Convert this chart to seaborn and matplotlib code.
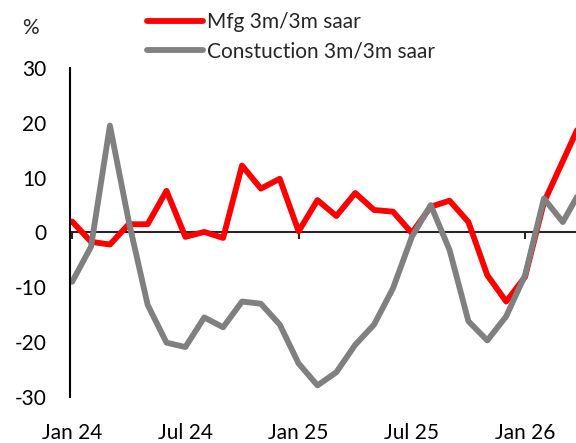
import numpy as np
import pandas as pd
import matplotlib
matplotlib.use("Agg")
import matplotlib.pyplot as plt
import seaborn as sns

months = pd.date_range("2024-01-01", periods=28, freq="MS")
mfg = [2.0, -1.7, -2.2, 1.5, 1.5, 7.6, -0.8, 0.1, -1.0, 12.2, 8.0, 9.8,
       0.2, 5.9, 3.0, 7.2, 4.1, 3.8, -0.1, 4.7, 5.8, 1.9, -7.8, -12.6,
       -8.1, 5.5, 13.0, 20.5]
constr = [-9.0, -2.6, 19.5, 2.0, -13.2, -20.1, -20.9, -15.5, -17.3, -12.6, -13.0, -16.8,
          -23.9, -27.9, -25.5, -20.5, -16.8, -10.2, -0.8, 5.0, -3.2, -16.2, -19.7, -15.3,
          -7.8, 6.2, 1.9, 8.0]
series_names = ["Mfg 3m/3m saar", "Constuction 3m/3m saar"]
colors = ["#FF0000", "#808080"]
label_idx = [0, 6, 12, 18, 24]
jan_idx = [0, 12, 24]

df = pd.DataFrame({"idx": np.arange(len(months)), series_names[0]: mfg, series_names[1]: constr})
df = df.melt(id_vars="idx", var_name="series", value_name="value")

sns.set_style("white")
plt.rcParams["font.family"] = ["Lato", "DejaVu Sans"]
plt.rcParams["font.size"] = 15
plt.rcParams["axes.unicode_minus"] = False

fig = plt.figure(figsize=(5.76, 4.43), dpi=100)
ax = fig.add_axes([0.122, 0.104, 0.878, 0.7425])
sns.lineplot(data=df, x="idx", y="value", hue="series", palette=colors,
             linewidth=4.2, ax=ax)

ax.set_xlim(-0.1, 26.7)
ax.set_ylim(-30, 30)
ax.set_yticks([-30, -20, -10, 0, 10, 20, 30])
ax.set_xticks(label_idx)
ax.set_xticklabels([months[i].strftime("%b %y") for i in label_idx])
ax.set_xlabel("")
ax.set_ylabel("")
for s in ["top", "right", "bottom"]:
    ax.spines[s].set_visible(False)
ax.spines["left"].set_color("black")
ax.spines["left"].set_linewidth(1.5)
ax.tick_params(axis="y", direction="out", length=5, width=1.5, pad=12, colors="black")
ax.tick_params(axis="x", length=0, pad=19, colors="black")

# zero line with January ticks
sec = ax.secondary_xaxis(0, transform=ax.transData)
sec.set_xticks(jan_idx)
sec.set_xticklabels([])
sec.spines["bottom"].set_linewidth(1.5)
sec.spines["top"].set_linewidth(1.5)
sec.tick_params(direction="out", length=5, width=1.5)

handles, labels = ax.get_legend_handles_labels()
ax.legend(handles, labels, loc="upper left", bbox_to_anchor=(147 / 576, 0.972),
          bbox_transform=fig.transFigure, frameon=False, borderpad=0, borderaxespad=0,
          handlelength=2.7, handletextpad=0.2, labelspacing=0.45)

fig.text(30 / 576, 1 - 28 / 443, "%", ha="center", va="center")

fig.savefig("out.png", dpi=100)
